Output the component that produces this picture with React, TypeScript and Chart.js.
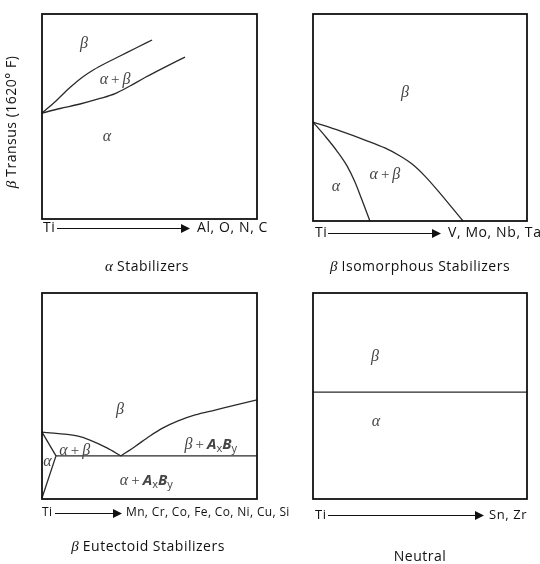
import React, { useEffect, useRef } from "react";
import { Chart, registerables } from "chart.js";
Chart.register(...registerables);

// ---------- data (x: alloying content 0..100, y: temperature 0..100) ----------
// α stabilizers
const P1_BETA_TRANSUS_X = [0, 6.5, 13.0, 18.6, 24.2, 29.8, 36.3, 43.7, 51.2];
const P1_BETA_TRANSUS_Y = [51.7, 57.6, 64.1, 69.0, 72.9, 76.1, 79.5, 83.4, 87.3];
const P1_ALPHA_TRANSUS_X = [0, 8.4, 17.7, 27.0, 34.0, 40.9, 47.9, 57.2, 66.5];
const P1_ALPHA_TRANSUS_Y = [51.7, 53.9, 56.1, 58.8, 61.2, 64.9, 69.0, 74.1, 79.0];
// β isomorphous
const P2_ALPHA_TRANSUS_X = [0, 5.6, 11.2, 15.9, 19.6, 22.9, 26.6];
const P2_ALPHA_TRANSUS_Y = [47.8, 41.1, 33.8, 26.6, 18.8, 10.1, 0];
const P2_BETA_TRANSUS_X = [0, 12.6, 24.3, 33.6, 40.7, 46.3, 52.3, 59.3, 70.1];
const P2_BETA_TRANSUS_Y = [47.8, 43.5, 39.1, 35.3, 31.4, 27.5, 21.7, 13.5, 0];
// β eutectoid
const P3_ALPHA_BOUND_X = [0, 6.5, 0];
const P3_ALPHA_BOUND_Y = [32.5, 20.9, 0.5];
const P3_ALPHA_TRANSUS_X = [0, 16.3, 22.3, 30.2, 36.7];
const P3_ALPHA_TRANSUS_Y = [32.5, 30.6, 28.6, 24.8, 20.9];
const P3_BETA_TRANSUS_X = [36.7, 43.3, 50.2, 56.3, 63.3, 71.2, 80.5, 89.8, 100];
const P3_BETA_TRANSUS_Y = [20.9, 25.5, 30.6, 34.5, 37.9, 40.8, 43.2, 45.6, 48.1];
const P3_EUTECTOID_X = [6.5, 100];
const P3_EUTECTOID_Y = [20.9, 20.9];
// neutral
const P4_TRANSUS_X = [0, 100];
const P4_TRANSUS_Y = [51.9, 51.9];

// ---------- texts ----------
const SANS = '"Open Sans", "Noto Sans", sans-serif';
const SERIF = '"Liberation Serif", "DejaVu Serif", serif';

type Run = [string, string];
const FONTS: Record<string, { font: string; dy: number; ls: string }> = {
  g: { font: `italic 16px ${SERIF}`, dy: 0, ls: "0px" },
  p: { font: `15px ${SERIF}`, dy: 0, ls: "0px" },
  b: { font: `italic bold 15px ${SANS}`, dy: 0, ls: "0px" },
  s: { font: `11px ${SANS}`, dy: 4, ls: "0px" },
  n: { font: `14px ${SANS}`, dy: 0, ls: "0.5px" },
  ga: { font: `italic 15px ${SERIF}`, dy: 0, ls: "0px" },
};
const PLUS = "\u2009+\u2009";

interface Line { x: number[]; y: number[]; smooth: boolean }
interface Label { x: number; y: number; runs: Run[] }
interface Panel {
  left: number; top: number; w: number; h: number;
  pad: { left: number; top: number; right: number; bottom: number };
  lines: Line[];
  labels: Label[];
  axis: { ti: number; dy: number; a0: number; a1: number; tx: number; text: string; size: number; ls: number };
  title: { x: number; y: number; runs: Run[] };
  ylabel?: { x: number; y: number; runs: Run[] };
}

const PANELS: Panel[] = [
  {
    left: 0, top: 0, w: 270, h: 282,
    pad: { left: 42, top: 14, right: 13, bottom: 63 },
    lines: [
      { x: P1_BETA_TRANSUS_X, y: P1_BETA_TRANSUS_Y, smooth: true },
      { x: P1_ALPHA_TRANSUS_X, y: P1_ALPHA_TRANSUS_Y, smooth: true },
    ],
    labels: [
      { x: 19.5, y: 85.4, runs: [["β", "g"]] },
      { x: 34, y: 67.8, runs: [["α", "g"], [PLUS, "p"], ["β", "g"]] },
      { x: 30.2, y: 40, runs: [["α", "g"]] },
    ],
    axis: { ti: 1, dy: 9, a0: 15, a1: 148, tx: 155, text: "Al, O, N, C", size: 14, ls: 0.6 },
    title: { x: 147, y: 267, runs: [["α", "ga"], [" Stabilizers", "n"]] },
    ylabel: { x: 12, y: 122, runs: [["β", "ga"], [" Transus (1620° F)", "n"]] },
  },
  {
    left: 270, top: 0, w: 270, h: 282,
    pad: { left: 43, top: 14, right: 13, bottom: 61 },
    lines: [
      { x: P2_ALPHA_TRANSUS_X, y: P2_ALPHA_TRANSUS_Y, smooth: true },
      { x: P2_BETA_TRANSUS_X, y: P2_BETA_TRANSUS_Y, smooth: true },
    ],
    labels: [
      { x: 43, y: 61.8, runs: [["β", "g"]] },
      { x: 33.6, y: 22.2, runs: [["α", "g"], [PLUS, "p"], ["β", "g"]] },
      { x: 10.7, y: 16.4, runs: [["α", "g"]] },
    ],
    axis: { ti: 2, dy: 12, a0: 15, a1: 128, tx: 135, text: "V, Mo, Nb, Ta", size: 14, ls: 0.6 },
    title: { x: 150, y: 267, runs: [["β", "ga"], [" Isomorphous Stabilizers", "n"]] },
  },
  {
    left: 0, top: 282, w: 300, h: 282,
    pad: { left: 42, top: 11, right: 43, bottom: 65 },
    lines: [
      { x: P3_ALPHA_BOUND_X, y: P3_ALPHA_BOUND_Y, smooth: false },
      { x: P3_ALPHA_TRANSUS_X, y: P3_ALPHA_TRANSUS_Y, smooth: true },
      { x: P3_BETA_TRANSUS_X, y: P3_BETA_TRANSUS_Y, smooth: true },
      { x: P3_EUTECTOID_X, y: P3_EUTECTOID_Y, smooth: false },
    ],
    labels: [
      { x: 36.3, y: 43.2, runs: [["β", "g"]] },
      { x: 15.2, y: 23.3, runs: [["α", "g"], [PLUS, "p"], ["β", "g"]] },
      { x: 2.5, y: 17.9, runs: [["α", "g"]] },
      { x: 78.5, y: 26.2, runs: [["β", "g"], [PLUS, "p"], ["A", "b"], ["x", "s"], ["B", "b"], ["y", "s"]] },
      { x: 48.5, y: 8.7, runs: [["α", "g"], [PLUS, "p"], ["A", "b"], ["x", "s"], ["B", "b"], ["y", "s"]] },
    ],
    axis: { ti: 0, dy: 14, a0: 13, a1: 80, tx: 84, text: "Mn, Cr, Co, Fe, Co, Ni, Cu, Si", size: 12, ls: 0.35 },
    title: { x: 148, y: 265, runs: [["β", "ga"], [" Eutectoid Stabilizers", "n"]] },
  },
  {
    left: 270, top: 282, w: 270, h: 282,
    pad: { left: 43, top: 11, right: 13, bottom: 65 },
    lines: [{ x: P4_TRANSUS_X, y: P4_TRANSUS_Y, smooth: false }],
    labels: [
      { x: 29, y: 68.9, runs: [["β", "g"]] },
      { x: 29.4, y: 37.4, runs: [["α", "g"]] },
    ],
    axis: { ti: 2, dy: 16, a0: 15, a1: 171, tx: 176, text: "Sn, Zr", size: 13, ls: 0.6 },
    title: { x: 150, y: 275, runs: [["Neutral", "n"]] },
  },
];

function drawRuns(ctx: any, runs: Run[], cx: number, cy: number) {
  let total = 0;
  const widths = runs.map(([t, k]) => {
    ctx.font = FONTS[k].font;
    ctx.letterSpacing = FONTS[k].ls;
    const w = ctx.measureText(t).width;
    total += w;
    return w;
  });
  let x = cx - total / 2;
  ctx.textAlign = "left";
  ctx.textBaseline = "middle";
  runs.forEach(([t, k], i) => {
    ctx.font = FONTS[k].font;
    ctx.letterSpacing = FONTS[k].ls;
    ctx.fillText(t, x, cy + FONTS[k].dy);
    x += widths[i];
  });
  ctx.letterSpacing = "0px";
}

function makePlugin(p: Panel) {
  return {
    id: "phaseFrame",
    afterDatasetsDraw(chart: any) {
      const { ctx, chartArea: a, scales } = chart;
      const sx = scales.x, sy = scales.y;
      ctx.save();
      // frame
      ctx.strokeStyle = "#111";
      ctx.lineWidth = 1.8;
      ctx.strokeRect(a.left, a.top, a.right - a.left, a.bottom - a.top);
      // region labels
      ctx.fillStyle = "#444";
      p.labels.forEach((l) => drawRuns(ctx, l.runs, sx.getPixelForValue(l.x), sy.getPixelForValue(l.y)));
      // composition axis
      const ay = a.bottom + p.axis.dy;
      ctx.fillStyle = "#111";
      ctx.font = `${p.axis.size}px ${SANS}`;
      ctx.letterSpacing = `${p.axis.ls}px`;
      ctx.textAlign = "left";
      ctx.textBaseline = "middle";
      ctx.fillText("Ti", a.left + p.axis.ti, ay);
      ctx.fillText(p.axis.text, a.left + p.axis.tx, ay);
      ctx.letterSpacing = "0px";
      ctx.strokeStyle = "#111";
      ctx.lineWidth = 1;
      ctx.beginPath();
      ctx.moveTo(a.left + p.axis.a0, ay + 0.5);
      ctx.lineTo(a.left + p.axis.a1 - 6, ay + 0.5);
      ctx.stroke();
      ctx.beginPath();
      ctx.moveTo(a.left + p.axis.a1, ay + 0.5);
      ctx.lineTo(a.left + p.axis.a1 - 9, ay - 4);
      ctx.lineTo(a.left + p.axis.a1 - 9, ay + 5);
      ctx.closePath();
      ctx.fill();
      // title
      ctx.fillStyle = "#111";
      drawRuns(ctx, p.title.runs, p.title.x, p.title.y);
      if (p.ylabel) {
        ctx.save();
        ctx.translate(p.ylabel.x, p.ylabel.y);
        ctx.rotate(-Math.PI / 2);
        drawRuns(ctx, p.ylabel.runs, 0, 0);
        ctx.restore();
      }
      ctx.restore();
    },
  };
}

function PanelChart({ p }: { p: Panel }) {
  const ref = useRef<HTMLCanvasElement>(null);
  useEffect(() => {
    if (!ref.current) return;
    const chart = new Chart(ref.current, {
      type: "scatter",
      data: {
        datasets: p.lines.map((l) => ({
          data: l.x.map((x, i) => ({ x, y: l.y[i] })),
          showLine: true,
          borderColor: "#2a2a2a",
          borderWidth: 1.3,
          pointRadius: 0,
          cubicInterpolationMode: l.smooth ? "monotone" : "default",
          tension: 0,
          fill: false,
          clip: false as any,
        })) as any,
      },
      options: {
        responsive: false,
        animation: false,
        devicePixelRatio: 1,
        events: [],
        layout: { padding: p.pad },
        scales: {
          x: { type: "linear", min: 0, max: 100, display: false },
          y: { type: "linear", min: 0, max: 100, display: false },
        },
        plugins: { legend: { display: false }, tooltip: { enabled: false } },
      },
      plugins: [makePlugin(p)],
    });
    return () => chart.destroy();
  }, [p]);
  return (
    <canvas
      ref={ref}
      width={p.w}
      height={p.h}
      style={{ position: "absolute", left: p.left, top: p.top, width: p.w, height: p.h }}
    />
  );
}

export default function App() {
  return (
    <div style={{ position: "fixed", left: 0, top: 0, width: 540, height: 564, background: "#fff", overflow: "hidden" }}>
      {PANELS.map((p, i) => (
        <PanelChart key={i} p={p} />
      ))}
    </div>
  );
}
